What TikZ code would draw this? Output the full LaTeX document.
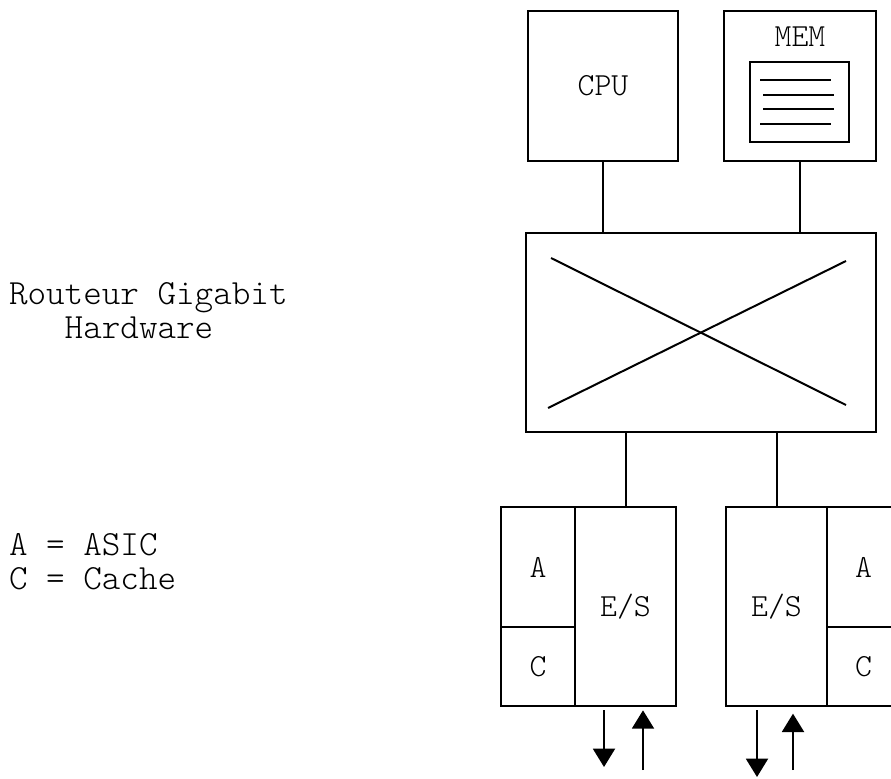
\documentclass[tikz,border=0pt]{standalone}
\usepackage{fontspec}
\setmonofont{Latin Modern Mono Light}
\usepackage{tikz}
\usetikzlibrary{arrows.meta}

\begin{document}
\begin{tikzpicture}[x=0.3mm,y=-0.3mm,line width=0.6mm,>={Triangle[length=5.5mm,width=6.6mm]},
    boite/.style={draw,rectangle,inner sep=0pt,font=\ttfamily\fontsize{27.5pt}{30pt}\selectfont},
    texte/.style={inner sep=0pt,align=left,anchor=base west,font=\ttfamily\fontsize{30.2pt}{28.2pt}\selectfont}]
  \useasboundingbox (0,0) rectangle (891,779);
  % titre et legende
  \node[texte] (titre) at (8,338) {Routeur Gigabit\\\ \ \ Hardware};
  \node[texte] (legende) at (8,589) {A = ASIC\\C = Cache};
  % processeur et memoire
  \node[boite,minimum width=45mm,minimum height=45mm] (cpu) at (603,86) {CPU};
  \node[boite,minimum width=45.6mm,minimum height=45mm] (mem) at (800,86) {};
  \node[inner sep=0pt,font=\ttfamily\fontsize{27.5pt}{30pt}\selectfont] (memtxt) at (800,37) {MEM};
  \node[boite,minimum width=29.7mm,minimum height=24mm] (barrette) at (799.5,102) {};
  \draw (760,80) -- (831,80);
  \draw (763,95) -- (834,95);
  \draw (763,109) -- (834,109);
  \draw (760,124) -- (831,124);
  % commutateur
  \node[boite,minimum width=105mm,minimum height=59.7mm] (sw) at (701,332.5) {};
  \draw (551,258) -- (846,405);
  \draw (548,408) -- (846,261);
  \draw (cpu.south) -- (cpu.south |- sw.north);
  \draw (mem.south) -- (mem.south |- sw.north);
  % cartes E/S
  \node[boite,minimum width=22.2mm,minimum height=36mm] (a1) at (538,567) {A};
  \node[boite,minimum width=22.2mm,minimum height=23.7mm] (c1) at (538,666.5) {C};
  \node[boite,minimum width=30.3mm,minimum height=59.7mm] (es1) at (625.5,606.5) {E/S};
  \node[boite,minimum width=30.3mm,minimum height=59.7mm] (es2) at (776.5,606.5) {E/S};
  \node[boite,minimum width=21.9mm,minimum height=36mm] (a2) at (863.5,567) {A};
  \node[boite,minimum width=21.9mm,minimum height=23.7mm] (c2) at (863.5,666.5) {C};
  \draw (sw.south -| es1.north) -- (es1.north);
  \draw (sw.south -| es2.north) -- (es2.north);
  % entrees / sorties
  \coordinate (out1) at (604,767);
  \coordinate (in1) at (643,770);
  \coordinate (out2) at (757,777);
  \coordinate (in2) at (793,770);
  \draw[->] ([yshift=-1mm]es1.south -| out1) -- (out1);
  \draw[->] (in1) -- ([yshift=-1mm]es1.south -| in1);
  \draw[->] ([yshift=-1mm]es2.south -| out2) -- (out2);
  \draw[->] (in2) -- ([yshift=-2mm]es2.south -| in2);
\end{tikzpicture}
\end{document}
